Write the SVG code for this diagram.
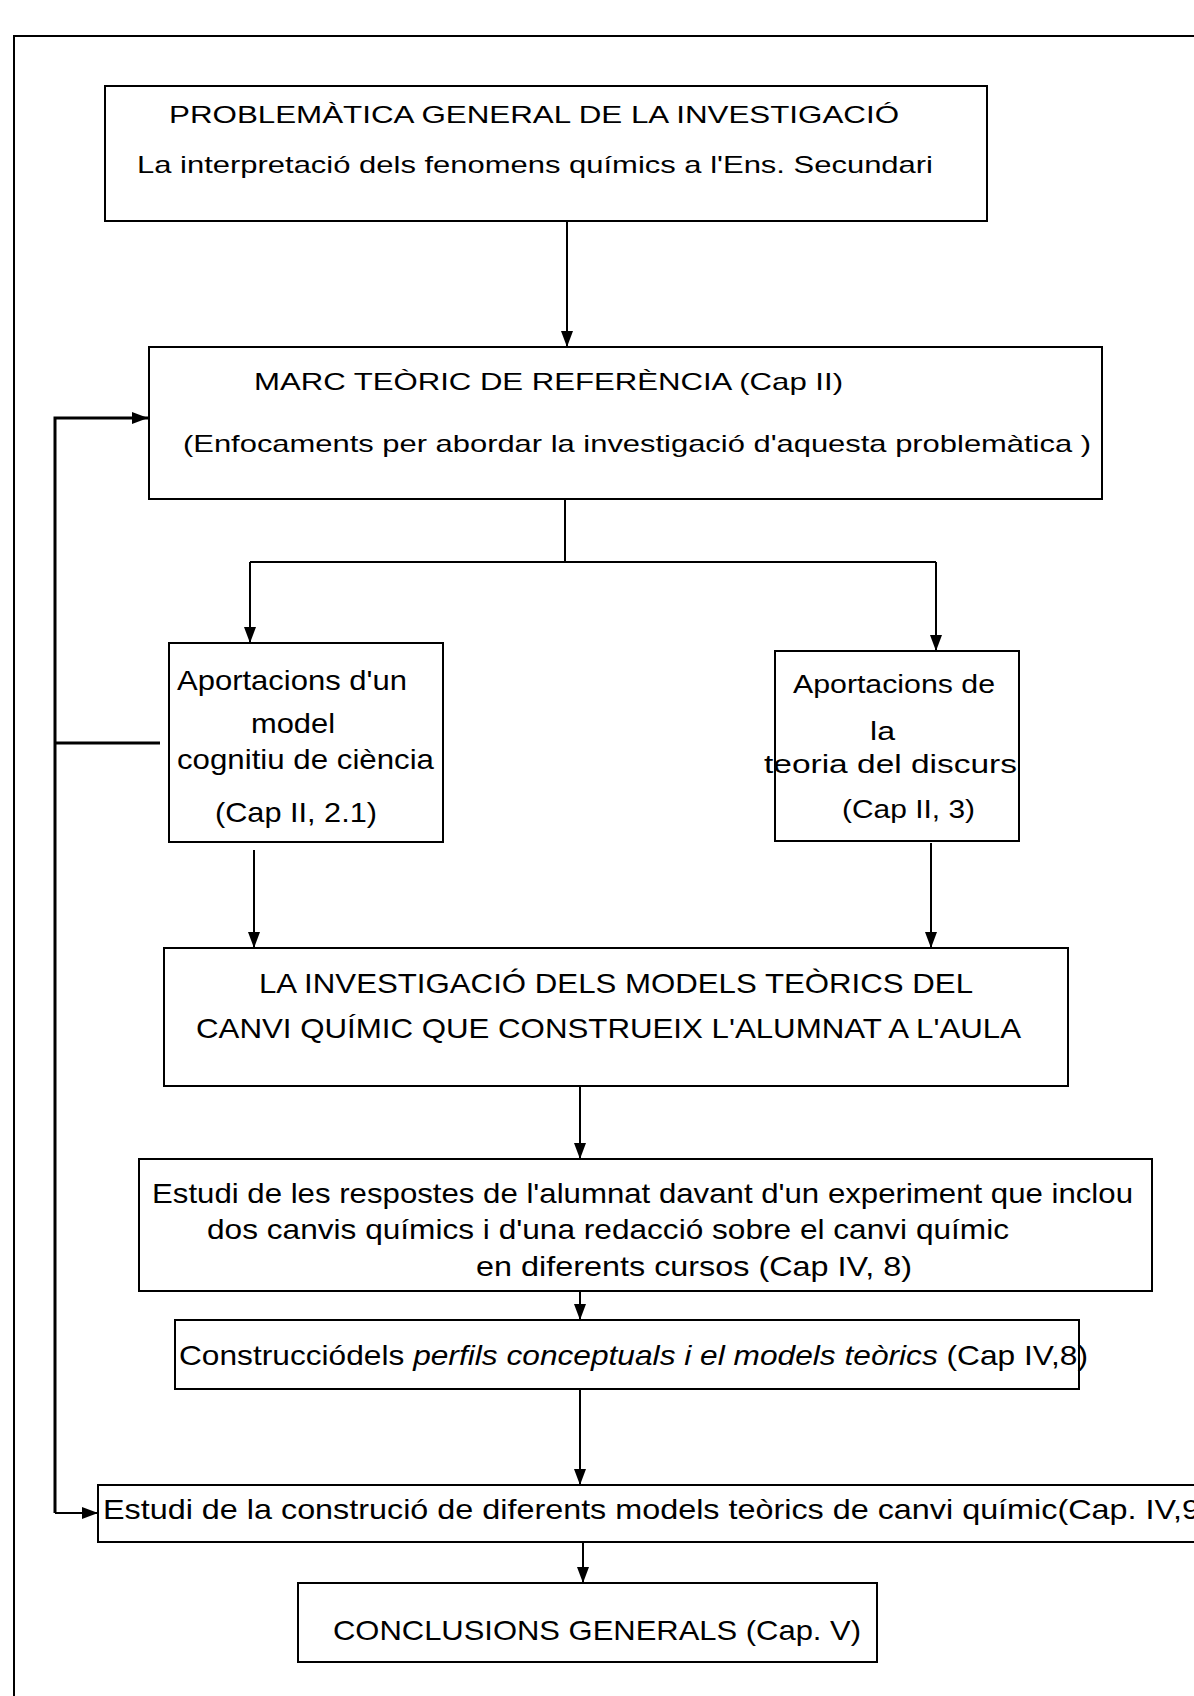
<svg xmlns="http://www.w3.org/2000/svg" width="1194" height="1696" viewBox="0 0 1194 1696">
<style>
.box{fill:#fff;stroke:#000;stroke-width:2}
.ln{fill:none;stroke:#000;stroke-width:2}
.fb{fill:none;stroke:#000;stroke-width:3}
text{font-family:"Liberation Sans",Arial,sans-serif;font-size:28px;fill:#000}
.s24{font-size:24px}
.s26{font-size:26px}
</style>
<defs>
<marker id="ah" viewBox="0 0 16 12" refX="16" refY="6" markerWidth="16" markerHeight="12" markerUnits="userSpaceOnUse" orient="auto">
<path d="M0,0 L16,6 L0,12 z" fill="#000"/>
</marker>
</defs>
<rect width="1194" height="1696" fill="#fff"/>
<g id="frame">
<path class="ln" d="M14,1696 V36 H1194"/>
</g>
<g id="connectors">
<path class="ln" d="M567,221 V347" marker-end="url(#ah)"/>
<path class="ln" d="M565,499 V562 M250,562 H936"/>
<path class="ln" d="M250,562 V643" marker-end="url(#ah)"/>
<path class="ln" d="M936,562 V651" marker-end="url(#ah)"/>
<path class="ln" d="M254,850 V948" marker-end="url(#ah)"/>
<path class="ln" d="M931,843 V948" marker-end="url(#ah)"/>
<path class="ln" d="M580,1086 V1159" marker-end="url(#ah)"/>
<path class="ln" d="M580,1291 V1320" marker-end="url(#ah)"/>
<path class="ln" d="M580,1389 V1485" marker-end="url(#ah)"/>
<path class="ln" d="M583,1542 V1583" marker-end="url(#ah)"/>
<path class="fb" d="M160,743 H55"/>
<path class="fb" d="M55,1513 V418 H148" marker-end="url(#ah)"/>
<path class="ln" d="M55,1513 H98" marker-end="url(#ah)"/>
</g>
<g id="n1">
<rect class="box" x="105" y="86" width="882" height="135"/>
<text class="s24" x="169" y="123" textLength="730" lengthAdjust="spacingAndGlyphs">PROBLEMÀTICA GENERAL DE LA INVESTIGACIÓ</text>
<text class="s24" x="137" y="173" textLength="796" lengthAdjust="spacingAndGlyphs">La interpretació dels fenomens químics a l'Ens. Secundari</text>
</g>
<g id="n2">
<rect class="box" x="149" y="347" width="953" height="152"/>
<text class="s24" x="254" y="390" textLength="589" lengthAdjust="spacingAndGlyphs">MARC TEÒRIC DE REFERÈNCIA (Cap II)</text>
<text class="s24" x="183" y="452" textLength="908" lengthAdjust="spacingAndGlyphs">(Enfocaments per abordar la investigació d'aquesta problemàtica )</text>
</g>
<g id="n3">
<rect class="box" x="169" y="643" width="274" height="199"/>
<text x="177" y="690" textLength="230" lengthAdjust="spacingAndGlyphs">Aportacions d'un</text>
<text x="251" y="733" textLength="84" lengthAdjust="spacingAndGlyphs">model</text>
<text x="177" y="769" textLength="257" lengthAdjust="spacingAndGlyphs">cognitiu de ciència</text>
<text x="215" y="822" textLength="162" lengthAdjust="spacingAndGlyphs">(Cap II, 2.1)</text>
</g>
<g id="n4">
<rect class="box" x="775" y="651" width="244" height="190"/>
<text class="s26" x="793" y="693" textLength="202" lengthAdjust="spacingAndGlyphs">Aportacions de</text>
<text class="s26" x="870" y="740" textLength="25" lengthAdjust="spacingAndGlyphs">la</text>
<text class="s26" x="764" y="773" textLength="253" lengthAdjust="spacingAndGlyphs">teoria del discurs</text>
<text class="s26" x="842" y="818" textLength="133" lengthAdjust="spacingAndGlyphs">(Cap II, 3)</text>
</g>
<g id="n5">
<rect class="box" x="164" y="948" width="904" height="138"/>
<text x="259" y="993" textLength="714" lengthAdjust="spacingAndGlyphs">LA INVESTIGACIÓ DELS MODELS TEÒRICS DEL</text>
<text x="196" y="1038" textLength="825" lengthAdjust="spacingAndGlyphs">CANVI QUÍMIC QUE CONSTRUEIX L'ALUMNAT A L'AULA</text>
</g>
<g id="n6">
<rect class="box" x="139" y="1159" width="1013" height="132"/>
<text x="152" y="1203" textLength="981" lengthAdjust="spacingAndGlyphs">Estudi de les respostes de l'alumnat davant d'un experiment que inclou</text>
<text x="207" y="1239" textLength="802" lengthAdjust="spacingAndGlyphs">dos canvis químics i d'una redacció sobre el canvi químic</text>
<text x="476" y="1276" textLength="436" lengthAdjust="spacingAndGlyphs">en diferents cursos  (Cap IV, 8)</text>
</g>
<g id="n7">
<rect class="box" x="175" y="1320" width="904" height="69"/>
<text x="179" y="1365" textLength="909" lengthAdjust="spacingAndGlyphs">Construcciódels <tspan font-style="italic">perfils conceptuals  i el models teòrics</tspan>  (Cap IV,8)</text>
</g>
<g id="n8">
<rect class="box" x="98" y="1485" width="1110" height="57"/>
<text x="103" y="1519" textLength="1097" lengthAdjust="spacingAndGlyphs">Estudi de la construció de diferents models teòrics de canvi químic(Cap. IV,9</text>
</g>
<g id="n9">
<rect class="box" x="298" y="1583" width="579" height="79"/>
<text x="333" y="1640" textLength="528" lengthAdjust="spacingAndGlyphs">CONCLUSIONS GENERALS (Cap. V)</text>
</g>
</svg>
